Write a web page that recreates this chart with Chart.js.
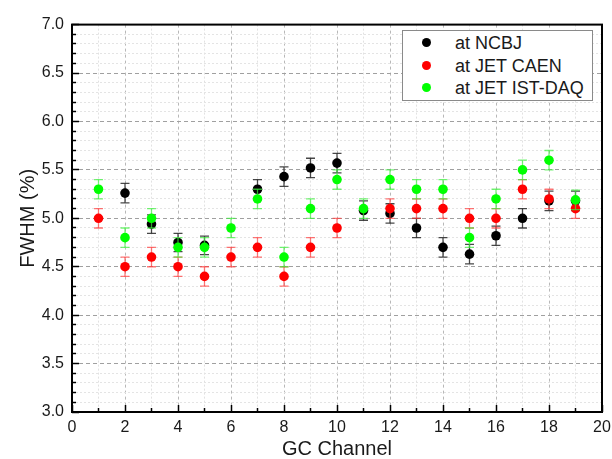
<!DOCTYPE html>
<html>
<head>
<meta charset="utf-8">
<script src="https://cdn.jsdelivr.net/npm/chart.js@4"></script>
<style>
html,body{margin:0;padding:0;background:#fff;}
#wrap{position:relative;width:612px;height:459px;}
#legend{position:absolute;left:402px;top:30px;width:191px;height:71px;box-sizing:border-box;border:1px solid #8a8a8a;background:#fff;font-family:"Liberation Sans",Arial,sans-serif;font-size:18px;color:#1a1a1a;}
.item{position:absolute;left:0;height:22px;line-height:22px;white-space:nowrap;}
.dot{position:absolute;left:19px;top:6px;width:9px;height:9px;border-radius:50%;}
.lbl{position:absolute;left:52px;top:0;}
</style>
</head>
<body>
<div id="wrap"><canvas id="c" width="612" height="459"></canvas><div id="legend"></div></div>
<script>
// ---- data ----
const channels = [1, 2, 3, 4, 5, 6, 7, 8, 9, 10, 11, 12, 13, 14, 15, 16, 17, 18, 19];
const ncbj   = [null, 5.26, 4.94, 4.75, 4.72, null, 5.30, 5.43, 5.52, 5.57, 5.08, 5.05, 4.90, 4.70, 4.63, 4.82, 5.00, 5.18, 5.18];
const ncbjErr = [0.1, 0.1, 0.095, 0.095, 0.095, 0.1, 0.1, 0.1, 0.1, 0.1, 0.1, 0.1, 0.1, 0.1, 0.1, 0.1, 0.1, 0.1, 0.1];
const caen   = [5.00, 4.50, 4.60, 4.50, 4.40, 4.60, 4.70, 4.40, 4.70, 4.90, null, 5.10, 5.10, 5.10, 5.00, 5.00, 5.30, 5.20, 5.10];
const caenErr = [0.1, 0.1, 0.1, 0.1, 0.1, 0.1, 0.1, 0.1, 0.1, 0.1, 0.1, 0.1, 0.1, 0.1, 0.1, 0.1, 0.1, 0.1, 0.1];
const istdaq = [5.30, 4.80, 5.00, 4.70, 4.70, 4.90, 5.20, 4.60, 5.10, 5.40, 5.10, 5.40, 5.30, 5.30, 4.80, 5.20, 5.50, 5.60, 5.19];
const istdaqErr = [0.1, 0.1, 0.1, 0.1, 0.1, 0.1, 0.1, 0.1, 0.1, 0.1, 0.1, 0.1, 0.1, 0.1, 0.1, 0.1, 0.1, 0.1, 0.1];
const seriesLabels = ['at NCBJ', 'at JET CAEN', 'at JET IST-DAQ'];
const xTicks = {min: 0, max: 20, step: 2, minorStep: 1};
const yTicks = {min: 3.0, max: 7.0, step: 0.5, minorStep: 0.1};
const xTitle = 'GC Channel';
const yTitle = 'FWHM (%)';

// ---- style ----
const FONT = '"Liberation Sans", Arial, sans-serif';
const colors = ['#000000', '#ff0000', '#00ff00'];
const errColors = ['rgba(40,40,40,0.85)', 'rgba(255,60,60,0.7)', 'rgba(60,240,60,0.7)'];
const TRANSPARENT = 'rgba(0,0,0,0)';

function ptData(vals) {
  return channels.map((c, i) => ({x: c, y: vals[i]})).filter(p => p.y != null);
}
function errData(vals, errs) {
  const out = [];
  channels.forEach((c, i) => {
    if (vals[i] == null) return;
    out.push({x: c, y: vals[i] - errs[i]}, {x: c, y: vals[i] + errs[i]}, {x: c, y: null});
  });
  return out;
}

const allVals = [ncbj, caen, istdaq];
const allErrs = [ncbjErr, caenErr, istdaqErr];
const datasets = [];
allVals.forEach((vals, s) => {
  const base = (3 - s) * 2; // black drawn first (bottom), green last (top)
  datasets.push({
    label: seriesLabels[s] + ' err',
    isErr: true,
    data: errData(vals, allErrs[s]),
    showLine: true,
    spanGaps: false,
    borderColor: errColors[s],
    borderWidth: 1.3,
    pointStyle: 'line',
    pointRadius: 4.5,
    pointBorderColor: errColors[s],
    pointBorderWidth: 1.3,
    order: base
  });
  datasets.push({
    label: seriesLabels[s],
    data: ptData(vals),
    showLine: false,
    pointStyle: 'circle',
    pointRadius: 4.8,
    pointBackgroundColor: colors[s],
    pointBorderColor: colors[s],
    pointBorderWidth: 0,
    order: base - 1
  });
});

const isMajorY = v => Math.abs(v / yTicks.step - Math.round(v / yTicks.step)) < 1e-6;
const isMajorX = v => Math.abs(v / xTicks.step - Math.round(v / xTicks.step)) < 1e-6;

const framePlugin = {
  id: 'frame',
  beforeDatasetsDraw(chart) {
    const a = chart.chartArea, ctx = chart.ctx;
    ctx.save();
    ctx.strokeStyle = '#000';
    ctx.lineWidth = 2;
    ctx.setLineDash([]);
    ctx.strokeRect(a.left, a.top, a.right - a.left, a.bottom - a.top);
    ctx.restore();
  }
};

const chart = new Chart(document.getElementById('c'), {
  type: 'scatter',
  data: {datasets},
  plugins: [framePlugin],
  options: {
    responsive: false,
    devicePixelRatio: 1,
    animation: false,
    events: [],
    layout: {padding: {left: 10, right: 10, top: 22, bottom: 0}},
    plugins: {legend: {display: false}, tooltip: {enabled: false}},
    scales: {
      x: {
        type: 'linear', position: 'bottom', weight: 1,
        min: xTicks.min, max: xTicks.max,
        ticks: {stepSize: xTicks.step, padding: 13, color: '#1a1a1a', font: {family: FONT, size: 16}},
        grid: {color: '#b8b8b8', lineWidth: 1, drawTicks: true, tickLength: -7, tickColor: '#000', tickWidth: 1.5, tickBorderDash: []},
        border: {display: false, dash: [3, 3]},
        title: {display: true, text: xTitle, color: '#1a1a1a', font: {family: FONT, size: 20, lineHeight: 1}, padding: {top: 0, bottom: 0}},
        afterFit: s => { s.height = 47; s.paddingRight = 0; s.paddingLeft = 0; }
      },
      xMinor: {
        type: 'linear', position: 'bottom', weight: 0,
        min: xTicks.min, max: xTicks.max,
        ticks: {display: false, stepSize: xTicks.minorStep, maxTicksLimit: 100},
        grid: {
          color: c => (c.tick && !isMajorX(c.tick.value)) ? '#e2e2e2' : TRANSPARENT,
          lineWidth: 1, drawTicks: true, tickLength: -4,
          tickColor: c => (c.tick && !isMajorX(c.tick.value)) ? '#000' : TRANSPARENT,
          tickWidth: 1.5, tickBorderDash: []
        },
        border: {display: false, dash: [2, 2]},
        afterFit: s => { s.height = 0; s.paddingRight = 0; s.paddingLeft = 0; }
      },
      y: {
        type: 'linear', position: 'left', weight: 1,
        min: yTicks.min, max: yTicks.max,
        ticks: {stepSize: yTicks.step, padding: 15, color: '#1a1a1a', font: {family: FONT, size: 16},
                callback: v => Number(v).toFixed(1)},
        grid: {color: '#a0a0a0', lineWidth: 1, drawTicks: true, tickLength: -7, tickColor: '#000', tickWidth: 1.5, tickBorderDash: []},
        border: {display: false, dash: [4, 3]},
        title: {display: true, text: yTitle, color: '#1a1a1a', font: {family: FONT, size: 20, lineHeight: 1}, padding: {top: 8, bottom: 0}},
        afterFit: s => { s.width = 62; }
      },
      yMinor: {
        type: 'linear', position: 'left', weight: 0,
        min: yTicks.min, max: yTicks.max,
        ticks: {display: false, stepSize: yTicks.minorStep, maxTicksLimit: 100},
        grid: {
          color: c => (c.tick && !isMajorY(c.tick.value)) ? '#e4e4e4' : TRANSPARENT,
          lineWidth: 1, drawTicks: true, tickLength: -4,
          tickColor: c => (c.tick && !isMajorY(c.tick.value)) ? '#000' : TRANSPARENT,
          tickWidth: 1.5, tickBorderDash: []
        },
        border: {display: false, dash: [2, 2]},
        afterFit: s => { s.width = 0; }
      }
    }
  }
});

// HTML legend built from the chart's datasets
const legend = document.getElementById('legend');
chart.data.datasets.filter(d => !d.isErr).forEach((d, i) => {
  const item = document.createElement('div');
  item.className = 'item';
  item.style.top = (1 + i * 22.5) + 'px';
  const dot = document.createElement('span');
  dot.className = 'dot';
  dot.style.background = d.pointBackgroundColor;
  const lbl = document.createElement('span');
  lbl.className = 'lbl';
  lbl.textContent = d.label;
  item.appendChild(dot);
  item.appendChild(lbl);
  legend.appendChild(item);
});
</script>
</body>
</html>
